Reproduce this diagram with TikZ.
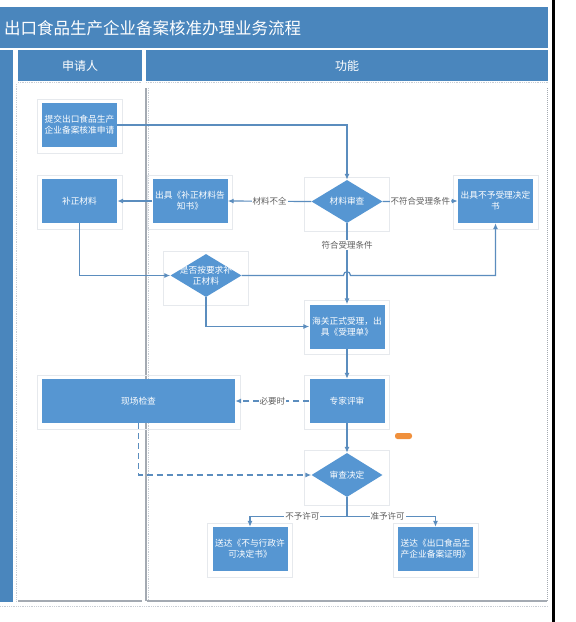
\documentclass[tikz,border=0pt]{standalone}
\usepackage{fontspec}
\setmainfont{Noto Sans CJK SC}
\usetikzlibrary{shapes.geometric,arrows.meta,calc}
\definecolor{barblue}{HTML}{4A86BD}
\definecolor{boxblue}{HTML}{5696D2}
\definecolor{lineblue}{HTML}{5B8DBE}
\definecolor{labelgray}{HTML}{5E5E5E}
\definecolor{framegray}{HTML}{E6E9ED}
\definecolor{lanegray}{HTML}{A4AAB2}
\definecolor{dotgray}{HTML}{C8CDD4}
\definecolor{orangemark}{HTML}{F0903C}
\begin{document}
\begin{tikzpicture}[x=1pt,y=-1pt,
  box/.style={fill=boxblue, text=white, font=\fontsize{8.7}{11}\selectfont,
    align=center, text width=71pt, inner sep=2pt, minimum width=75pt, minimum height=44pt},
  dia/.style={shape=diamond, fill=boxblue, minimum width=71pt, minimum height=43pt, inner sep=0pt},
  dialbl/.style={text=white, font=\fontsize{8.7}{11}\selectfont, align=center, inner sep=0pt},
  frame/.style={draw=framegray, line width=0.6pt},
  conn/.style={draw=lineblue, line width=1.2pt, -{Latex[length=6pt,width=5pt]}},
  plain/.style={draw=lineblue, line width=1.2pt},
  dashconn/.style={conn, dash pattern=on 6pt off 4pt},
  lbl/.style={fill=white, text=labelgray, font=\fontsize{8.5}{10}\selectfont, inner sep=1pt},
  hdr/.style={text=white, font=\fontsize{12}{14}\selectfont}
]
\useasboundingbox (0,0) rectangle (576,622);
\fill[white] (0,0) rectangle (576,622);

% title bar and lane headers
\fill[barblue] (0,7) rectangle (548,48);
\node[text=white, font=\fontsize{16.5}{19}\selectfont, anchor=west, inner sep=0pt] (title) at (4,28.5) {出口食品生产企业备案核准办理业务流程};
\fill[barblue] (0,50) rectangle (13,602);
\fill[barblue] (18,50) rectangle (142,81);
\fill[barblue] (146,50) rectangle (548,81);
\node[hdr] (h1) at (80,66) {申请人};
\node[hdr] (h2) at (347,66) {功能};

% lane borders
\draw[dotgray, densely dotted, line width=0.8pt] (18,82.5) -- (142,82.5);
\draw[dotgray, densely dotted, line width=0.8pt] (146,82.5) -- (548,82.5);
\draw[dotgray, densely dotted, line width=0.8pt] (16,84) -- (16,601);
\draw[dotgray, densely dotted, line width=0.8pt] (148.5,88) -- (148.5,600);
\draw[lanegray, densely dotted, line width=1pt] (547,88) -- (547,601);
\draw[lanegray, line width=1.2pt] (146,88) -- (146,601);
\draw[lanegray, line width=1.2pt] (18,601) -- (142,601);
\draw[lanegray, line width=1.2pt] (147,601) -- (547,601);
\draw[dotgray, densely dotted, line width=0.8pt] (0,606) -- (548,606);
\draw[line width=2.5pt] (553.5,0) -- (553.5,622);

% nodes
\node[box] (submit) at (79.5,125) {提交出口食品生产\\企业备案核准申请};
\node[box] (supp) at (79.5,201) {补正材料};
\node[box] (notice) at (190,201) {出具《补正材料告\\知书》};
\node[dia, label={[dialbl]center:材料审查}] (check) at (347,201.5) {};
\node[box] (reject) at (495.5,201) {出具不予受理决定\\书};
\node[dia, label={[dialbl]center:{是否按要求补\\正材料}}] (redo) at (206,275.5) {};
\node[box] (accept) at (347,326.5) {海关正式受理，出\\具《受理单》};
\node[box, minimum width=193pt] (site) at (138.5,401) {现场检查};
\node[box] (expert) at (347,401) {专家评审};
\node[dia, minimum height=44pt, label={[dialbl]center:审查决定}] (decide) at (347,475) {};
\node[box] (deny) at (250,549) {送达《不与行政许\\可决定书》};
\node[box] (grant) at (435.5,549) {送达《出口食品生\\产企业备案证明》};

% faint frames around shapes
\foreach \n in {submit,supp,notice,reject,accept,site,expert,deny,grant}{
  \draw[frame] ($(\n.north west)+(-5,-4)$) rectangle ($(\n.south east)+(5,6)$);
}
\foreach \n in {check,redo,decide}{
  \draw[frame] ($(\n.west |- \n.north)+(-7,-3)$) rectangle ($(\n.east |- \n.south)+(7,8)$);
}

% orange mark
\fill[orangemark, rounded corners=2.5pt] (395,433) rectangle (412,439);

% connectors
\draw[conn] (submit.east) -| (check.north);
\draw[conn] (check.west) -- node[lbl] {材料不全} (notice.east);
\draw[conn] (notice.west) -- (supp.east);
\draw[conn] (check.east) -- node[lbl] {不符合受理条件} (reject.west);
\draw[conn] (check.south) -- node[lbl, pos=0.27] {符合受理条件} (accept.north);
\draw[conn] (supp.south) |- (redo.west);
\draw[conn] (redo.east) -- ($(redo.east -| accept.north)+(-3.5,0)$)
  .. controls +(0,-5) and +(0,-5) .. ($(redo.east -| accept.north)+(3.5,0)$) -| (reject.south);
\draw[conn] (redo.south) |- (accept.west);
\draw[conn] (accept.south) -- (expert.north);
\draw[dashconn] (expert.west) -- node[lbl] {必要时} (site.east);
\draw[conn] (expert.south) -- (decide.north);
\draw[dashconn] (site.south) |- (decide.west);
\coordinate (br) at ($(decide.south)+(0,19)$);
\draw[plain] (decide.south) -- (br);
\draw[conn] (br) -| node[lbl, pos=0.23] {不予许可} (deny.north);
\draw[conn] (br) -| node[lbl, pos=0.23] {准予许可} (grant.north);
\end{tikzpicture}
\end{document}
